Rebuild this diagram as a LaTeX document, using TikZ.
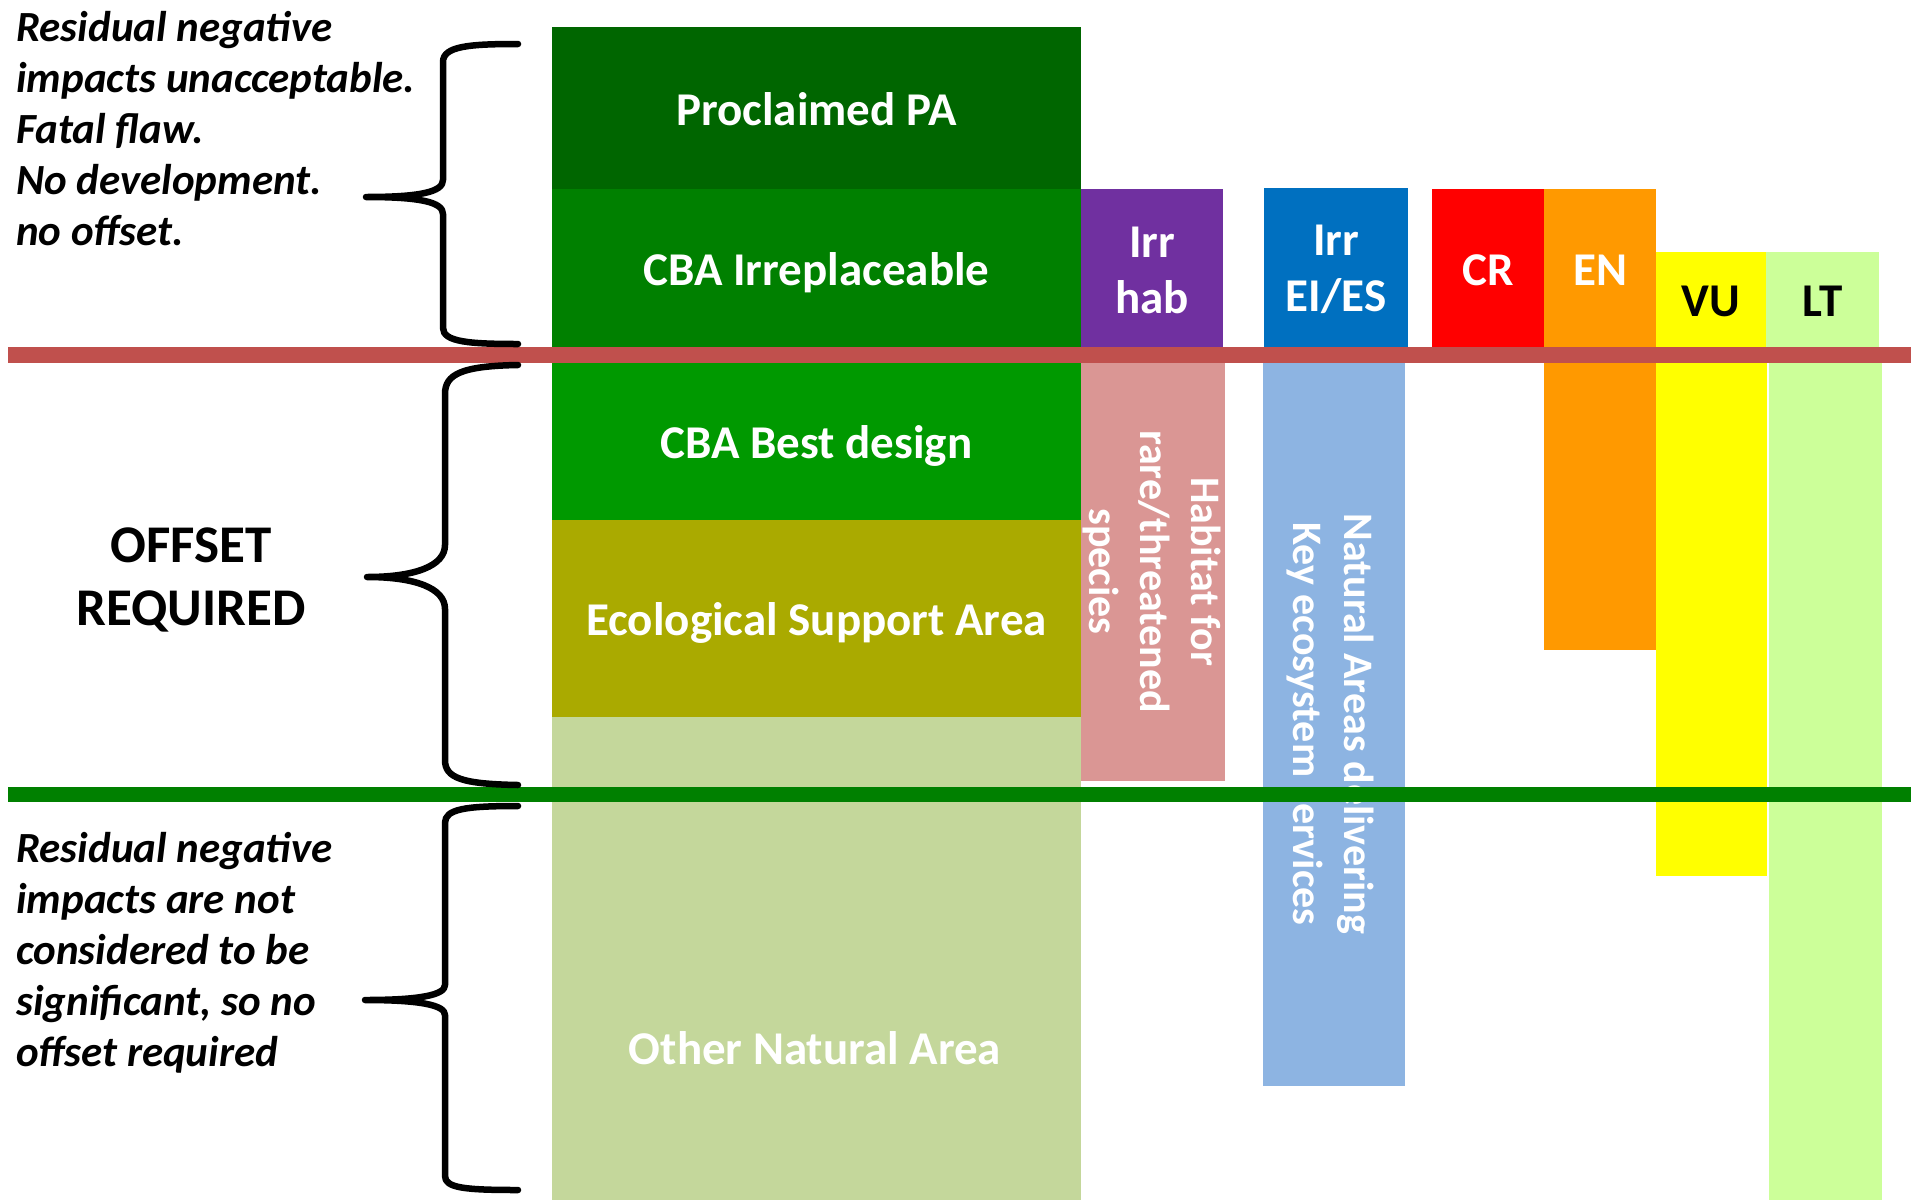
\documentclass[tikz,border=0pt]{standalone}
\usepackage{fontspec}
\setmainfont{Carlito}
\definecolor{cpa}{RGB}{0,102,0}
\definecolor{ccbairr}{RGB}{0,128,0}
\definecolor{ccbabest}{RGB}{0,153,0}
\definecolor{cesa}{RGB}{170,170,0}
\definecolor{cona}{RGB}{196,215,155}
\definecolor{cirrhab}{RGB}{112,48,160}
\definecolor{cpink}{RGB}{218,150,148}
\definecolor{cirrei}{RGB}{0,112,192}
\definecolor{cnat}{RGB}{141,180,226}
\definecolor{ccr}{RGB}{255,0,0}
\definecolor{cen}{RGB}{255,153,0}
\definecolor{cvu}{RGB}{255,255,0}
\definecolor{clt}{RGB}{204,255,153}
\definecolor{credline}{RGB}{192,80,77}
\definecolor{cgreenline}{RGB}{0,128,0}
\tikzset{
  blockbox/.style={inner sep=0pt, outer sep=0pt, anchor=north west, text=white,
    font=\bfseries\fontsize{47}{56}\selectfont, align=center},
  oneline/.style={text height=45pt, text depth=11pt},
  boxlabel/.style={inner sep=0pt, text=white, align=center,
    font=\bfseries\fontsize{47}{56}\selectfont},
  rottext/.style={inner sep=0pt, text=white, rotate=-90,
    font=\bfseries\fontsize{42}{51}\selectfont, align=center},
  lefttext/.style={inner sep=0pt, anchor=north west, align=left,
    font=\bfseries\itshape\fontsize{43}{51}\selectfont},
  bracepath/.style={line width=6.5pt, line cap=round, line join=round, black},
}
\begin{document}
\begin{tikzpicture}[x=1pt, y=-1pt]
\useasboundingbox (0,0) rectangle (1911,1200);
\fill[white] (0,0) rectangle (1911,1200);

% main column
\node[blockbox, oneline, fill=cpa, minimum width=529, minimum height=162] (pa) at (552,27) {Proclaimed PA};
\node[blockbox, oneline, fill=ccbairr, minimum width=529, minimum height=158] (cbairr) at (552,189) {CBA Irreplaceable};
\node[blockbox, oneline, fill=ccbabest, minimum width=529, minimum height=158] (cbabest) at (552,362) {CBA Best design};
\node[blockbox, oneline, fill=cesa, minimum width=529, minimum height=197] (esa) at (552,520) {Ecological Support Area};
\node[blockbox, fill=cona, minimum width=529, minimum height=483] (ona) at (552,717) {};
\node[boxlabel] (onalabel) at (815,1048) {Other Natural Area};

% irreplaceable habitat
\node[blockbox, fill=cirrhab, minimum width=142, minimum height=158] (irrhab) at (1081,189) {};
\node[boxlabel] (irrhabtext) at ([yshift=-2pt]irrhab.center) {Irr\\hab};
\node[blockbox, fill=cpink, minimum width=144, minimum height=419] (hab) at (1081,362) {};
\node[rottext] (habtext) at ([xshift=-1pt]hab.center) {Habitat for\\rare/threatened\\species};

% ecosystem services
\node[blockbox, fill=cirrei, minimum width=144, minimum height=159] (irrei) at (1264,188) {};
\node[boxlabel] (irreitext) at ([yshift=-2pt]irrei.center) {Irr\\EI/ES};
\node[blockbox, fill=cnat, minimum width=142, minimum height=724] (nat) at (1263,362) {};
\node[rottext] (nattext) at ([xshift=-4pt]nat.center) {Natural Areas delivering\\Key ecosystem services};

% threat status
\node[blockbox, oneline, fill=ccr, minimum width=112, minimum height=158] (cr) at (1432,189) {CR};
\node[blockbox, oneline, fill=cen, minimum width=112, minimum height=158] (en) at (1544,189) {EN};
\node[blockbox, fill=cen, minimum width=114, minimum height=303] (enlow) at (1544,347) {};
\node[blockbox, oneline, fill=cvu, text=black, minimum width=110, minimum height=95] (vu) at (1656,252) {VU};
\node[blockbox, fill=cvu, minimum width=111, minimum height=529] (vulow) at (1656,347) {};
\node[blockbox, oneline, fill=clt, text=black, minimum width=113, minimum height=95] (lt) at (1766,252) {LT};
\node[blockbox, fill=clt, minimum width=113, minimum height=853] (ltlow) at (1769,347) {};

% threshold lines
\fill[credline] (8,347) rectangle (1911,363);
\fill[cgreenline] (8,787) rectangle (1911,802);

% braces
\draw[bracepath] (518,44) .. controls (470,44) and (443,46) .. (443,62) -- (443,180)
  .. controls (443,192) and (420,197) .. (366,197)
  .. controls (420,197) and (443,202) .. (443,214) -- (443,328)
  .. controls (443,342) and (470,344) .. (518,344);
\draw[bracepath] (518,365) .. controls (462,366) and (445,374) .. (445,394) -- (445,545)
  .. controls (445,566) and (415,577) .. (367,577)
  .. controls (415,577) and (445,588) .. (445,609) -- (445,760)
  .. controls (445,778) and (462,784) .. (518,785);
\draw[bracepath] (518,806) .. controls (465,806) and (445,809) .. (445,823) -- (445,985)
  .. controls (445,995) and (420,1000) .. (365,1000)
  .. controls (420,1000) and (445,1005) .. (445,1015) -- (445,1176)
  .. controls (445,1188) and (465,1190) .. (518,1190);

% left texts
\node[lefttext] (topnote) at (16,11) {Residual negative\\impacts unacceptable.\\Fatal flaw.\\No development.\\no offset.};
\node[inner sep=0pt, align=center, font=\bfseries\fontsize{53}{63}\selectfont] (offset) at (191,580) {OFFSET\\REQUIRED};
\node[lefttext] (bottomnote) at (16,832) {Residual negative\\impacts are not\\considered to be\\significant, so no\\offset required};
\end{tikzpicture}
\end{document}
